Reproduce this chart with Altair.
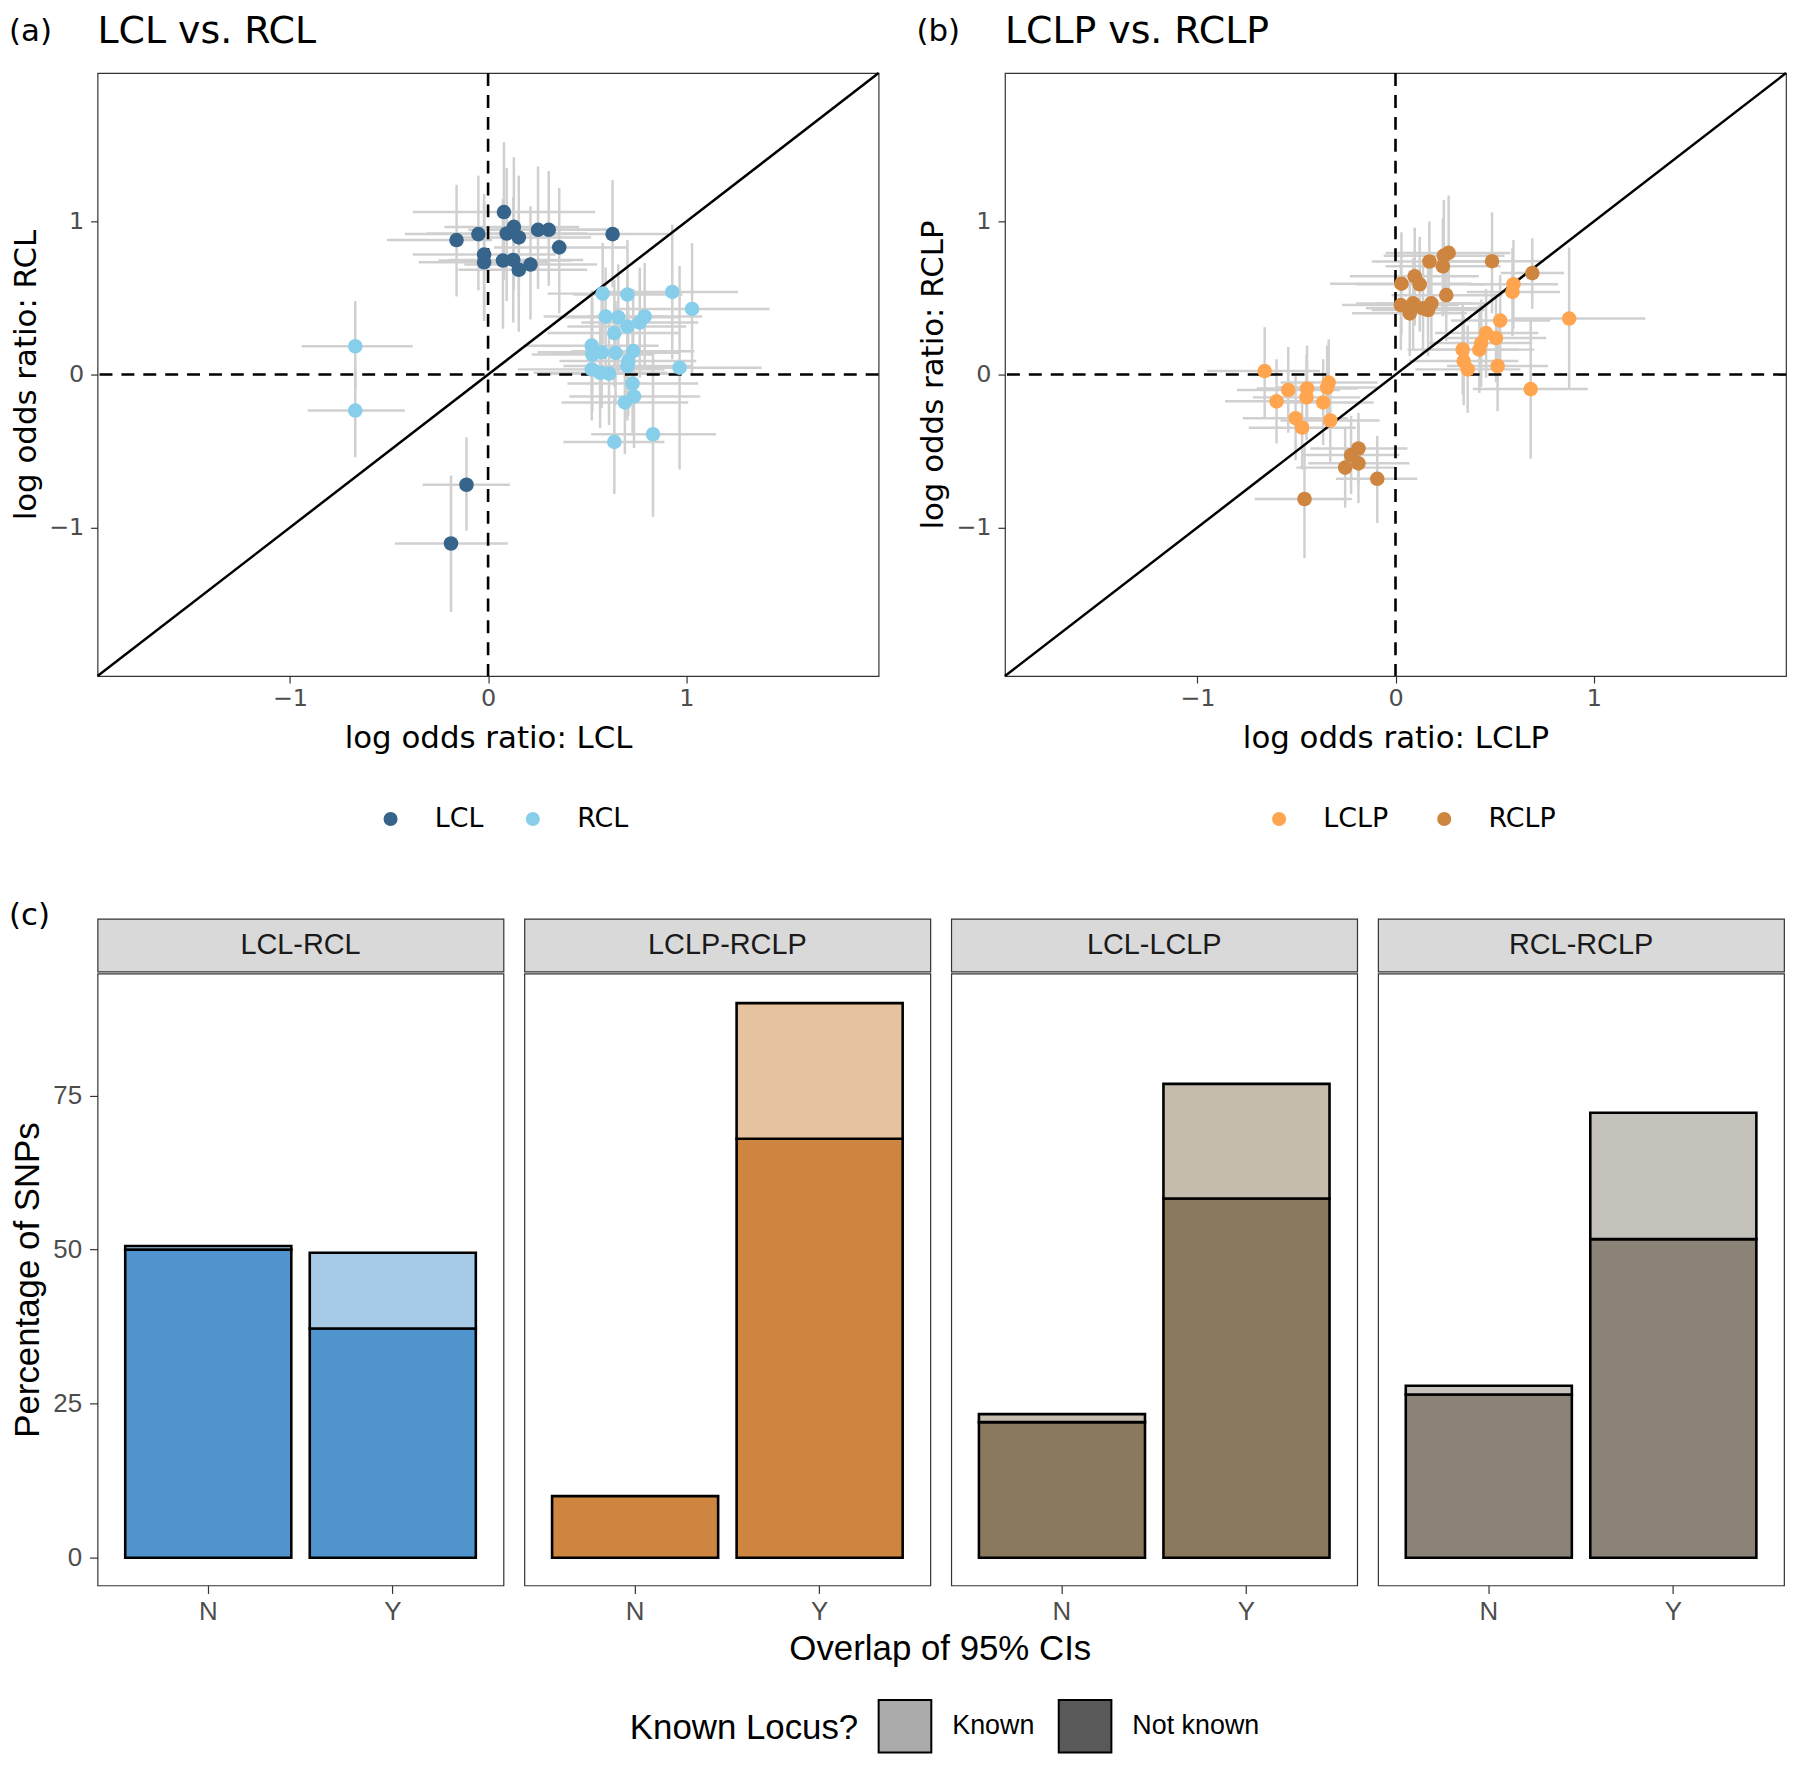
import altair as alt
import pandas as pd

# ---------------- shared axis settings for panels (a) and (b) ----------------
AX_LIM = [-1.97, 1.97]
AX_TICKS = [-1, 0, 1]
REF = [0]
DIAG = [-1.97, 1.97]
tags = ["(a)", "(b)", "(c)"]
titles = ["LCL vs. RCL", "LCLP vs. RCLP"]

# ---------------- panel (a): LCL vs RCL ----------------
lcl_x = [0.080, -0.159, -0.049, 0.130, 0.094, 0.155, 0.252, 0.306, 0.359, 0.628, -0.020, -0.020, 0.075, 0.127, 0.155, 0.214, -0.109, -0.187]
lcl_y = [1.062, 0.879, 0.918, 0.965, 0.922, 0.896, 0.946, 0.946, 0.831, 0.918, 0.784, 0.734, 0.745, 0.749, 0.685, 0.719, -0.720, -1.104]
lcl_xlo = [-0.38, -0.51, -0.42, -0.22, -0.31, -0.18, -0.10, -0.05, 0.03, 0.31, -0.38, -0.35, -0.25, -0.20, -0.15, -0.12, -0.33, -0.47]
lcl_xhi = [0.54, 0.02, 0.36, 0.46, 0.50, 0.52, 0.60, 0.66, 0.70, 0.91, 0.34, 0.30, 0.42, 0.48, 0.50, 0.55, 0.11, 0.10]
lcl_ylo = [0.62, 0.51, 0.55, 0.55, 0.48, 0.50, 0.56, 0.58, 0.40, 0.57, 0.38, 0.35, 0.30, 0.34, 0.28, 0.36, -1.02, -1.55]
lcl_yhi = [1.52, 1.24, 1.30, 1.42, 1.35, 1.30, 1.36, 1.33, 1.22, 1.27, 1.18, 1.12, 1.15, 1.16, 1.06, 1.10, -0.41, -0.66]

rcl_x = [0.578, 0.703, 0.929, 1.029, 0.593, 0.657, 0.703, 0.637, 0.765, 0.790, 0.523, 0.573, 0.643, 0.732, 0.526, 0.523, 0.565, 0.610, 0.703, 0.707, 0.966, 0.729, 0.736, 0.690, 0.637, 0.832, -0.670, -0.670]
rcl_y = [0.529, 0.523, 0.540, 0.429, 0.379, 0.374, 0.314, 0.271, 0.340, 0.379, 0.189, 0.146, 0.142, 0.153, 0.131, 0.034, 0.012, 0.006, 0.056, 0.088, 0.045, -0.059, -0.143, -0.182, -0.440, -0.390, 0.185, -0.235]
rcl_xlo = [0.30, 0.43, 0.60, 0.64, 0.28, 0.35, 0.40, 0.30, 0.47, 0.50, 0.18, 0.25, 0.32, 0.42, 0.22, 0.15, 0.23, 0.28, 0.38, 0.36, 0.55, 0.40, 0.41, 0.37, 0.38, 0.52, -0.94, -0.91]
rcl_xhi = [0.86, 0.98, 1.26, 1.42, 0.90, 0.96, 1.00, 0.97, 1.06, 1.08, 0.86, 0.90, 0.97, 1.04, 0.83, 0.89, 0.90, 0.94, 1.03, 1.05, 1.38, 1.06, 1.07, 1.01, 0.89, 1.15, -0.38, -0.42]
rcl_ylo = [0.20, 0.18, 0.10, 0.00, 0.05, 0.02, -0.02, -0.08, -0.02, 0.03, -0.17, -0.22, -0.20, -0.25, -0.24, -0.30, -0.35, -0.33, -0.30, -0.27, -0.62, -0.40, -0.48, -0.52, -0.78, -0.93, -0.10, -0.54]
rcl_yhi = [0.86, 0.88, 0.98, 0.86, 0.70, 0.72, 0.65, 0.62, 0.70, 0.73, 0.55, 0.51, 0.48, 0.56, 0.50, 0.37, 0.37, 0.34, 0.41, 0.45, 0.71, 0.28, 0.19, 0.16, -0.14, 0.14, 0.48, 0.05]

# ---------------- panel (b): LCLP vs RCLP ----------------
lclp_x = [0.595, 0.590, 0.528, 0.876, 0.457, 0.507, 0.432, 0.423, 0.339, 0.344, 0.364, 0.515, 0.682, -0.660, -0.541, -0.600, -0.446, -0.449, -0.337, -0.345, -0.365, -0.504, -0.471, -0.329]
lclp_y = [0.590, 0.540, 0.353, 0.366, 0.271, 0.239, 0.206, 0.163, 0.163, 0.088, 0.034, 0.056, -0.095, 0.023, -0.101, -0.175, -0.091, -0.149, -0.052, -0.085, -0.182, -0.285, -0.347, -0.300]
lclp_xlo = [0.37, 0.36, 0.28, 0.60, 0.20, 0.26, 0.17, 0.15, 0.06, 0.07, 0.10, 0.26, 0.39, -0.95, -0.80, -0.86, -0.70, -0.72, -0.58, -0.60, -0.62, -0.77, -0.74, -0.58]
lclp_xhi = [0.82, 0.83, 0.78, 1.26, 0.72, 0.76, 0.69, 0.70, 0.62, 0.62, 0.63, 0.77, 0.97, -0.38, -0.28, -0.34, -0.19, -0.18, -0.09, -0.09, -0.11, -0.24, -0.20, -0.08]
lclp_ylo = [0.30, 0.25, 0.05, -0.09, -0.02, -0.05, -0.08, -0.12, -0.13, -0.20, -0.25, -0.24, -0.55, -0.29, -0.38, -0.45, -0.37, -0.43, -0.33, -0.36, -0.46, -0.56, -0.62, -0.57]
lclp_yhi = [0.88, 0.83, 0.65, 0.83, 0.56, 0.53, 0.49, 0.45, 0.46, 0.38, 0.32, 0.35, 0.36, 0.31, 0.18, 0.10, 0.19, 0.13, 0.23, 0.19, 0.10, -0.01, -0.07, -0.03]

rclp_x = [0.268, 0.244, 0.171, 0.239, 0.487, 0.690, 0.097, 0.122, 0.030, 0.256, 0.027, 0.072, 0.089, 0.139, 0.181, 0.164, -0.187, -0.224, -0.187, -0.254, -0.092, -0.459]
rclp_y = [0.795, 0.777, 0.739, 0.708, 0.741, 0.663, 0.642, 0.590, 0.594, 0.519, 0.454, 0.400, 0.465, 0.433, 0.465, 0.422, -0.483, -0.526, -0.580, -0.608, -0.681, -0.813]
rclp_xlo = [-0.05, -0.06, -0.12, -0.05, 0.22, 0.53, -0.23, -0.20, -0.33, -0.02, -0.27, -0.22, -0.20, -0.15, -0.10, -0.12, -0.43, -0.47, -0.44, -0.50, -0.30, -0.71]
rclp_xhi = [0.58, 0.55, 0.46, 0.53, 0.75, 0.85, 0.42, 0.45, 0.39, 0.54, 0.32, 0.36, 0.38, 0.43, 0.46, 0.45, 0.06, 0.02, 0.07, 0.00, 0.11, -0.22]
rclp_ylo = [0.45, 0.42, 0.40, 0.38, 0.40, 0.43, 0.32, 0.28, 0.26, 0.22, 0.16, 0.12, 0.17, 0.14, 0.18, 0.12, -0.72, -0.78, -0.84, -0.87, -0.97, -1.20]
rclp_yhi = [1.17, 1.14, 1.00, 1.02, 1.06, 0.89, 0.96, 0.90, 0.93, 0.82, 0.75, 0.68, 0.76, 0.72, 0.75, 0.72, -0.25, -0.27, -0.32, -0.35, -0.40, -0.45]

# ---------------- panel (c): % of SNPs with overlapping 95% CIs ----------------
pairs = ["LCL-RCL", "LCLP-RCLP", "LCL-LCLP", "RCL-RCLP"]
overlap_levels = ["N", "Y"]
not_known_pct = {"LCL-RCL": [50.0, 37.2], "LCLP-RCLP": [10.0, 68.0],
                 "LCL-LCLP": [22.0, 58.3], "RCL-RCLP": [26.5, 51.7]}
known_pct = {"LCL-RCL": [0.6, 12.3], "LCLP-RCLP": [0.0, 22.0],
             "LCL-LCLP": [1.3, 18.6], "RCL-RCLP": [1.4, 20.5]}
not_known_fill = {"LCL-RCL": "#4F94CD", "LCLP-RCLP": "#CD853F",
                  "LCL-LCLP": "#8B795E", "RCL-RCLP": "#8B8378"}
known_fill = {"LCL-RCL": "#A7CAE6", "LCLP-RCLP": "#E6C29F",
              "LCL-LCLP": "#C5BCAE", "RCL-RCLP": "#C5C1BB"}
known_levels = ["Known", "Not known"]
known_swatch = ["#ababab", "#595959"]

# ---------------- fonts / sizes ----------------
TOP_FONT = "DejaVu Sans"
BOT_FONT = "Liberation Sans"
SC_W, SC_H = 785, 606
BAR_W, BAR_H, STRIP_H = 408, 615, 53


def series_df(name, x, y, xlo, xhi, ylo, yhi):
    return pd.DataFrame({"series": name, "x": x, "y": y,
                         "x_lo": xlo, "x_hi": xhi, "y_lo": ylo, "y_hi": yhi})


def scatter_panel(df, names, colors, xt, yt, tag, title, legend_x, col_pad):
    xs = alt.Scale(domain=AX_LIM, nice=False, zero=False)
    ys = alt.Scale(domain=AX_LIM, nice=False, zero=False)
    common = dict(values=AX_TICKS, grid=False, domain=False, tickSize=7,
                  tickColor="#333333", tickWidth=1.2,
                  labelFont=TOP_FONT, labelFontSize=24, labelColor="#4d4d4d",
                  titleFont=TOP_FONT, titleFontSize=31, titleFontWeight="normal",
                  titleColor="black")
    xaxis = alt.Axis(title=xt, labelPadding=4, titlePadding=13, **common)
    yaxis = alt.Axis(title=yt, labelPadding=7, titlePadding=6, **common)

    def X(f):
        return alt.X(f, type="quantitative", scale=xs, axis=xaxis)

    def Y(f):
        return alt.Y(f, type="quantitative", scale=ys, axis=yaxis)

    base = alt.Chart(df)
    hbars = base.mark_rule(color="#d0d0d0", strokeWidth=2.5).encode(
        x=X("x_lo"), x2="x_hi", y=Y("y"))
    vbars = base.mark_rule(color="#d0d0d0", strokeWidth=2.5).encode(
        x=X("x"), y=Y("y_lo"), y2="y_hi")
    ref = pd.DataFrame({"v": REF})
    vref = alt.Chart(ref).mark_rule(color="black", strokeWidth=2.6,
                                    strokeDash=[13, 9]).encode(x=X("v"))
    href = alt.Chart(ref).mark_rule(color="black", strokeWidth=2.6,
                                    strokeDash=[13, 9]).encode(y=Y("v"))
    diag = alt.Chart(pd.DataFrame({"d": DIAG})).mark_line(
        color="black", strokeWidth=2.5).encode(x=X("d"), y=Y("d"))
    pts = base.mark_circle(size=215, opacity=1).encode(
        x=X("x"), y=Y("y"),
        color=alt.Color("series:N", title=None,
                        scale=alt.Scale(domain=names, range=colors),
                        legend=alt.Legend(orient="none", legendX=legend_x,
                                          legendY=736, direction="horizontal",
                                          symbolType="circle", symbolSize=200,
                                          symbolStrokeWidth=0, symbolOpacity=1,
                                          labelFont=TOP_FONT, labelFontSize=27,
                                          labelColor="black", labelOffset=31,
                                          columnPadding=col_pad)))
    tag_t = alt.Chart(pd.DataFrame({"t": [tag]})).mark_text(
        font=TOP_FONT, fontSize=31, align="left", baseline="middle",
        color="black").encode(text="t:N", x=alt.value(-89), y=alt.value(-41))
    title_t = alt.Chart(pd.DataFrame({"t": [title]})).mark_text(
        font=TOP_FONT, fontSize=38, align="left", baseline="middle",
        color="black").encode(text="t:N", x=alt.value(0), y=alt.value(-41))
    return alt.layer(hbars, vbars, vref, href, diag, pts, tag_t, title_t).properties(
        width=SC_W, height=SC_H)


df_a = pd.concat([series_df("LCL", lcl_x, lcl_y, lcl_xlo, lcl_xhi, lcl_ylo, lcl_yhi),
                  series_df("RCL", rcl_x, rcl_y, rcl_xlo, rcl_xhi, rcl_ylo, rcl_yhi)])
df_b = pd.concat([series_df("LCLP", lclp_x, lclp_y, lclp_xlo, lclp_xhi, lclp_ylo, lclp_yhi),
                  series_df("RCLP", rclp_x, rclp_y, rclp_xlo, rclp_xhi, rclp_ylo, rclp_yhi)])

panel_a = scatter_panel(df_a, ["LCL", "RCL"], ["#36648B", "#87CEEB"],
                        "log odds ratio: LCL", "log odds ratio: RCL",
                        tags[0], titles[0], 281, 36)
panel_b = scatter_panel(df_b, ["LCLP", "RCLP"], ["#FFA54F", "#CD853F"],
                        "log odds ratio: LCLP", "log odds ratio: RCLP",
                        tags[1], titles[1], 262, 42)
top_row = alt.hconcat(panel_a, panel_b, spacing=31).resolve_scale(color="independent")

# ---------------- bar panels ----------------
rows = []
keys, fills = [], []
for p in pairs:
    keys += [p + "|Not known", p + "|Known"]
    fills += [not_known_fill[p], known_fill[p]]
    for i, o in enumerate(overlap_levels):
        rows.append({"pair": p, "overlap": o, "known": "Not known",
                     "key": p + "|Not known", "pct": not_known_pct[p][i], "ord": 0})
        if known_pct[p][i] > 0:
            rows.append({"pair": p, "overlap": o, "known": "Known",
                         "key": p + "|Known", "pct": known_pct[p][i], "ord": 1})
bars_df = pd.DataFrame(rows)


def bar_panel(i, pair):
    first = i == 0
    d = bars_df[bars_df["pair"] == pair]
    if first:
        yaxis = alt.Axis(title="Percentage of SNPs", values=[0, 25, 50, 75],
                         grid=False, domain=False, tickSize=8, tickColor="#333333",
                         tickWidth=1.2, labelFont=BOT_FONT, labelFontSize=26,
                         labelColor="#4d4d4d", labelPadding=8, titleFont=BOT_FONT,
                         titleFontSize=35, titleFontWeight="normal",
                         titleColor="black", titlePadding=7)
    else:
        yaxis = None
    bars = alt.Chart(d).mark_bar(stroke="black", strokeWidth=2.6).encode(
        x=alt.X("overlap:N", sort=overlap_levels,
                scale=alt.Scale(paddingInner=0.1, paddingOuter=0.15),
                axis=alt.Axis(title=None, labelAngle=0, grid=False, domain=False,
                              tickSize=8, tickColor="#333333", tickWidth=1.2,
                              labelFont=BOT_FONT, labelFontSize=26,
                              labelColor="#4d4d4d", labelPadding=5)),
        y=alt.Y("pct:Q", stack="zero",
                scale=alt.Scale(domain=[-4.5, 94.8], nice=False, zero=False),
                axis=yaxis),
        fill=alt.Fill("key:N", scale=alt.Scale(domain=keys, range=fills), legend=None),
        order=alt.Order("ord:Q"),
    ).properties(width=BAR_W, height=BAR_H)

    strip_txt = alt.Chart(pd.DataFrame({"pair": [pair]})).mark_text(
        font=BOT_FONT, fontSize=29, color="#1a1a1a").encode(text="pair:N")
    layers = [strip_txt]
    if first:
        layers.append(alt.Chart(pd.DataFrame({"t": [tags[2]]})).mark_text(
            font=TOP_FONT, fontSize=31, align="left", baseline="middle",
            color="black").encode(text="t:N", x=alt.value(-89), y=alt.value(-3)))
    strip = alt.layer(*layers).properties(
        width=BAR_W, height=STRIP_H,
        view=alt.ViewBackground(fill="#d9d9d9", stroke="#333333", strokeWidth=1.2))
    return alt.vconcat(strip, bars, spacing=0)


bottom_row = alt.hconcat(*[bar_panel(i, p) for i, p in enumerate(pairs)], spacing=19)

legend_row = alt.Chart(pd.DataFrame({"known": known_levels})).mark_square(
    opacity=0, size=10).encode(
    color=alt.Color("known:N", scale=alt.Scale(domain=known_levels, range=known_swatch),
                    legend=alt.Legend(orient="none", legendX=535, legendY=31,
                                      direction="horizontal", title="Known Locus?",
                                      titleOrient="left", titleAnchor="middle",
                                      titleBaseline="middle", titleLimit=500,
                                      titleFont=BOT_FONT, titleFontSize=35,
                                      titleFontWeight="normal", titleColor="black",
                                      titlePadding=19,
                                      symbolType="square",
                                      symbolSize=2800, symbolOpacity=1,
                                      symbolStrokeColor="black", symbolStrokeWidth=2,
                                      labelFont=BOT_FONT, labelFontSize=27,
                                      labelColor="black", labelOffset=20,
                                      columnPadding=20))
).properties(
    width=1688, height=1,
    view=alt.ViewBackground(stroke="transparent"),
    title=alt.TitleParams(text="Overlap of 95% CIs", anchor="middle", frame="group",
                          font=BOT_FONT, fontSize=35, fontWeight="normal",
                          color="black", offset=0, dx=3))

lower = alt.vconcat(bottom_row, legend_row, spacing=6).resolve_scale(color="independent")

chart = alt.vconcat(top_row, lower, spacing=66).resolve_scale(
    color="independent").properties(padding=0).configure_view(
    stroke="#333333", strokeWidth=1.2).configure_axis(grid=False, domain=False)

chart.save("out.html", embed_options={"renderer": "svg", "actions": False})
